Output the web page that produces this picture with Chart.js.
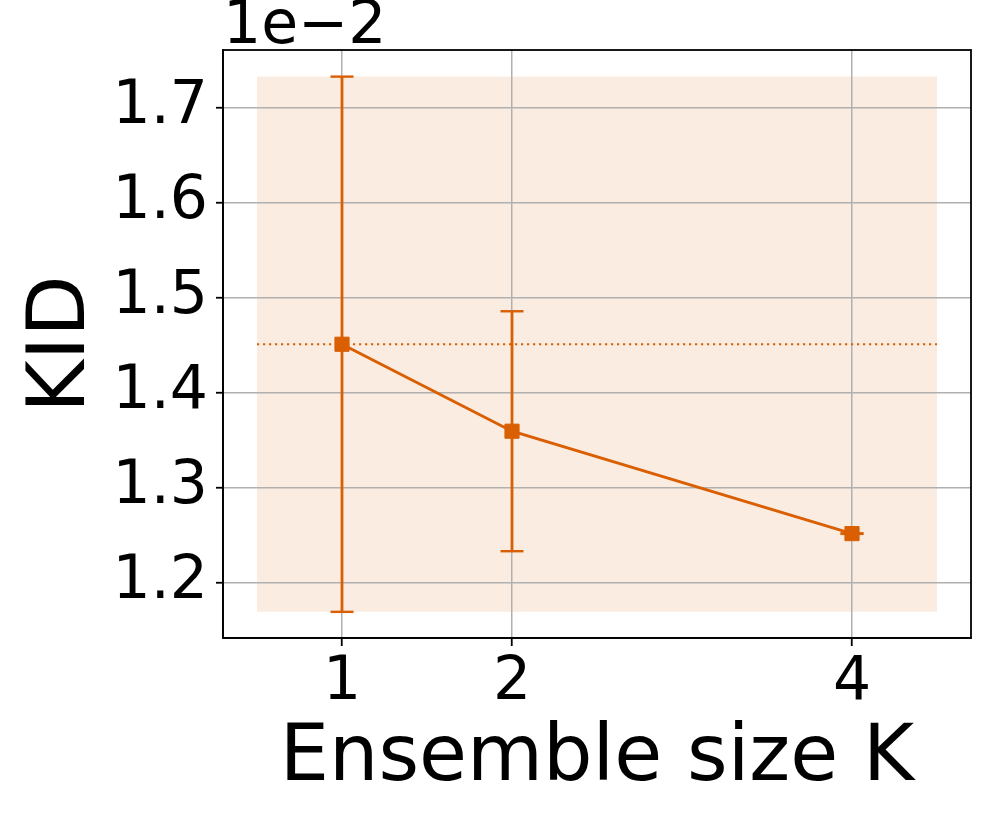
<!DOCTYPE html>
<html>
<head>
<meta charset="utf-8">
<script src="https://cdn.jsdelivr.net/npm/chart.js@4/dist/chart.umd.min.js"></script>
<style>
html,body{margin:0;padding:0;background:#ffffff;}
#wrap{width:996px;height:830px;}
</style>
</head>
<body>
<div id="wrap"><canvas id="c" width="996" height="830"></canvas></div>
<script>
// ---- data ----
const ensembleSizes = [1, 2, 4];
const kidMean = [1.451, 1.3595, 1.2518];
const kidErr = [0.2815, 0.1262, 0.0003];
const xTickValues = [1, 2, 4];
const yTickValues = [1.2, 1.3, 1.4, 1.5, 1.6, 1.7];
const bandXRange = [0.5, 4.5];
const offsetText = '1e\u22122';
const xAxisTitle = 'Ensemble size K';
const yAxisTitle = 'KID';

// ---- derived ----
const COLOR = '#d95f02';
const FONT = "'DejaVu Sans', 'Liberation Sans', sans-serif";
const bandLo = Math.min(...kidMean.map((m, i) => m - kidErr[i]));
const bandHi = Math.max(...kidMean.map((m, i) => m + kidErr[i]));
const baseline = kidMean[0];

const errorBarSets = ensembleSizes.map((k, i) => ({
  type: 'line',
  data: [{x: k, y: kidMean[i] - kidErr[i]}, {x: k, y: kidMean[i] + kidErr[i]}],
  borderColor: COLOR,
  borderWidth: 2.8,
  pointStyle: 'line',
  pointRadius: 11.5,
  pointBorderWidth: 2.4,
  pointBorderColor: COLOR,
  pointHoverRadius: 11.5,
  fill: false,
  order: 3
}));

const frameAndOffset = {
  id: 'frameAndOffset',
  afterDraw(chart) {
    const {ctx, chartArea} = chart;
    ctx.save();
    ctx.strokeStyle = '#000';
    ctx.lineWidth = 1.8;
    ctx.strokeRect(chartArea.left, chartArea.top, chartArea.right - chartArea.left, chartArea.bottom - chartArea.top);
    ctx.fillStyle = '#000';
    ctx.font = '60px ' + FONT;
    ctx.textAlign = 'left';
    ctx.textBaseline = 'alphabetic';
    ctx.fillText(offsetText, chartArea.left, chartArea.top - 7);
    ctx.restore();
  }
};

new Chart(document.getElementById('c'), {
  type: 'line',
  data: {
    datasets: [
      {
        label: 'mean',
        data: ensembleSizes.map((k, i) => ({x: k, y: kidMean[i]})),
        borderColor: COLOR,
        backgroundColor: COLOR,
        borderWidth: 3,
        pointStyle: 'rect',
        pointRadius: 10,
        pointHoverRadius: 10,
        pointBackgroundColor: COLOR,
        pointBorderColor: COLOR,
        pointBorderWidth: 1,
        fill: false,
        order: 1
      },
      ...errorBarSets,
      {
        label: 'baseline',
        data: bandXRange.map(x => ({x, y: baseline})),
        borderColor: COLOR,
        borderWidth: 2,
        borderDash: [2.2, 3.8],
        pointRadius: 0,
        fill: false,
        order: 5
      },
      {
        label: 'band',
        data: bandXRange.map(x => ({x, y: bandHi})),
        borderWidth: 0,
        borderColor: 'rgba(0,0,0,0)',
        backgroundColor: 'rgba(217,95,2,0.12)',
        pointRadius: 0,
        fill: {value: bandLo},
        order: 10
      }
    ]
  },
  options: {
    responsive: false,
    animation: false,
    devicePixelRatio: 1,
    layout: {padding: {top: 50, right: 25, bottom: 0, left: 0}},
    plugins: {
      legend: {display: false},
      tooltip: {enabled: false},
      filler: {drawTime: 'beforeDraw'}
    },
    scales: {
      x: {
        type: 'linear',
        min: 0.3,
        max: 4.7,
        afterBuildTicks: s => { s.ticks = xTickValues.map(v => ({value: v})); },
        afterFit: s => { s.height = 192; },
        ticks: {
          font: {family: FONT, size: 60},
          color: '#000',
          padding: 1,
          maxRotation: 0,
          callback: v => String(v)
        },
        grid: {color: '#b0b0b0', lineWidth: 1.5, tickLength: 8, tickColor: '#000', tickWidth: 1.8},
        border: {display: true, color: '#000', width: 1.8},
        title: {
          display: true,
          text: xAxisTitle,
          color: '#000',
          font: {family: FONT, size: 78},
          padding: {top: 0, bottom: 23.5}
        }
      },
      y: {
        type: 'linear',
        min: 1.142,
        max: 1.7605,
        afterBuildTicks: s => { s.ticks = yTickValues.map(v => ({value: v})); },
        afterFit: s => { s.width = 223; },
        ticks: {
          font: {family: FONT, size: 60},
          color: '#000',
          padding: 8,
          callback: v => Number(v).toFixed(1)
        },
        grid: {color: '#b0b0b0', lineWidth: 1.5, tickLength: 7, tickColor: '#000', tickWidth: 1.8},
        border: {display: true, color: '#000', width: 1.8},
        title: {
          display: true,
          text: yAxisTitle,
          color: '#000',
          font: {family: FONT, size: 80},
          padding: {top: 15, bottom: 0}
        }
      }
    }
  },
  plugins: [frameAndOffset]
});
</script>
</body>
</html>
